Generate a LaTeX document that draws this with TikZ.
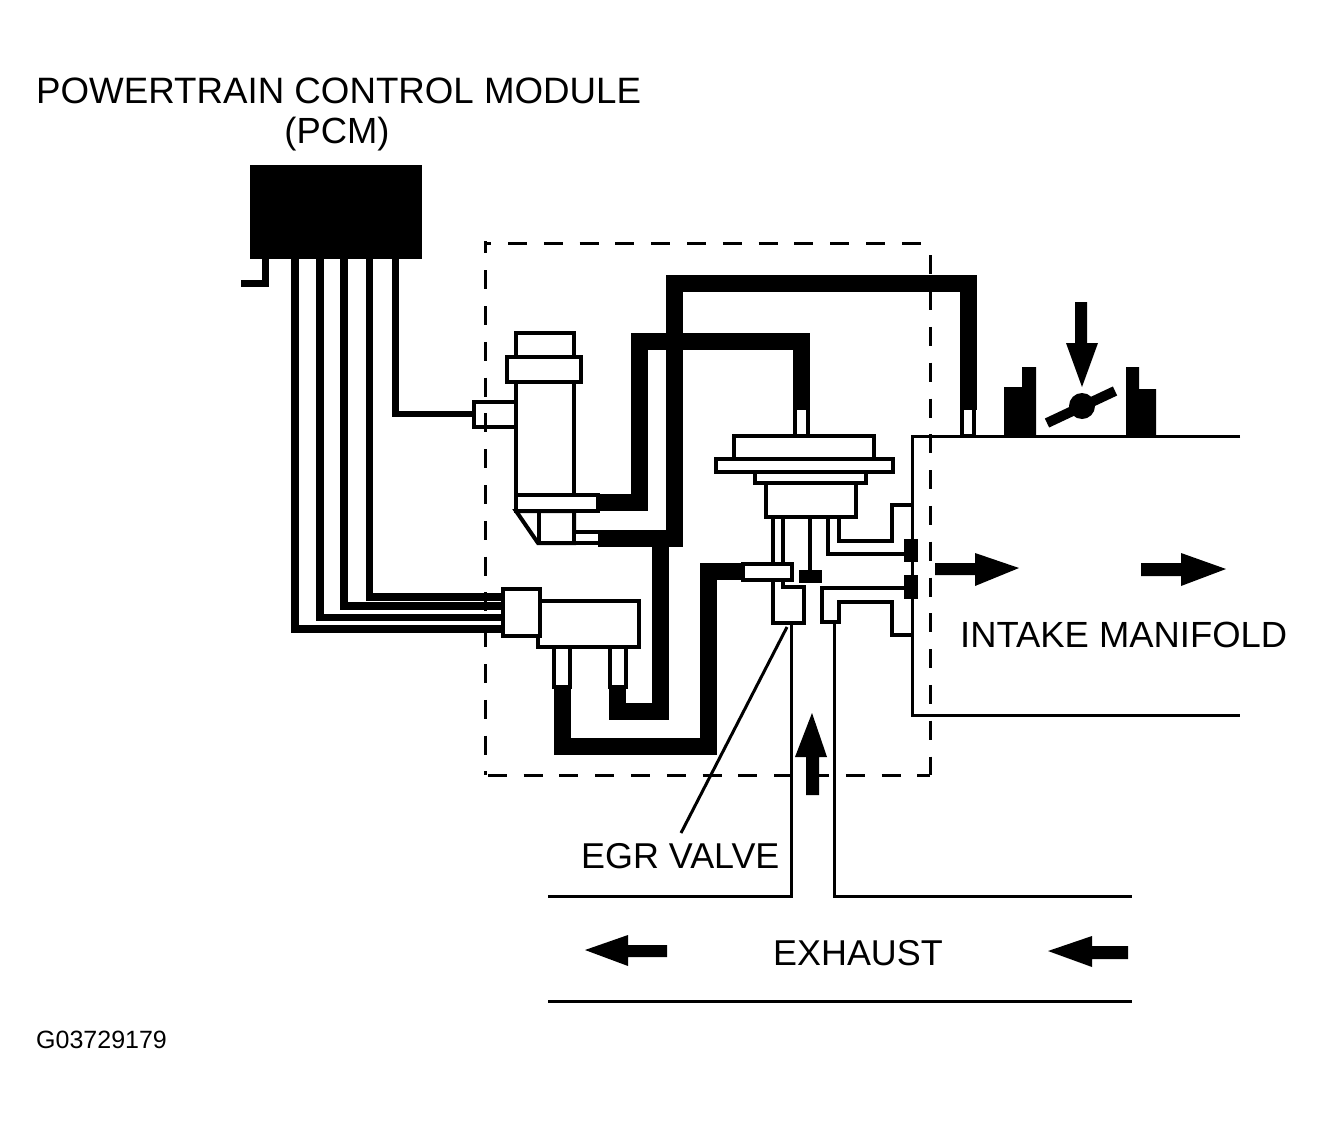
\documentclass[tikz,border=0pt]{standalone}
\usepackage{fontspec}
\setmainfont{Liberation Sans}
\tikzset{
 x=1pt,y=-1pt,
 lbl/.style={inner sep=0pt,font=\fontsize{36.4}{40}\selectfont},
 small/.style={inner sep=0pt,font=\fontsize{25}{28}\selectfont},
 ln/.style={draw=black,line width=4pt,line join=miter},
 wire/.style={draw=black,line width=7.5pt,line join=miter},
 hose/.style={draw=black,line width=17pt,line join=miter},
 part/.style={draw=black,line width=4pt,fill=white},
 pipe/.style={draw=black,line width=3pt},
 solid black/.style={fill=black,draw=none},
 dashbox/.style={draw=black,line width=3pt,dash pattern=on 19pt off 16.8pt},
}
\begin{document}
\begin{tikzpicture}
\useasboundingbox (0,0) rectangle (1324,1124);
% texts
\node[lbl,font=\fontsize{36.7}{40}\selectfont,anchor=west] (title) at (36,91) {POWERTRAIN CONTROL MODULE};
\node[lbl] (pcmlabel) at (337,134) {(PCM)};
\node[lbl,anchor=west] (intake) at (960,635) {INTAKE MANIFOLD};
\node[lbl,font=\fontsize{35.9}{40}\selectfont,anchor=west] (egr) at (581,856) {EGR VALVE};
\node[lbl,font=\fontsize{35.9}{40}\selectfont,anchor=west] (exhaust) at (773,953) {EXHAUST};
\node[small,anchor=west] (code) at (36,1040) {G03729179};
% PCM
\fill[solid black] (250,165) rectangle (422,259);
\draw[wire,line width=7pt] (265.5,259) -- (265.5,283.5) -- (241,283.5);
% solenoid 1
\draw[part] (516,333) rectangle (574,370);
\draw[part] (516,382) rectangle (574,495);
\draw[part] (507,357) rectangle (581,382);
\draw[part] (474,402) rectangle (516,427);
\draw[ln,fill=white] (516,511) -- (538,543) -- (574,543) -- (574,511) -- cycle;
\draw[ln] (539,511) -- (539,543);
% solenoid 2
\draw[part] (538,601) rectangle (639,647);
\draw[part] (503,589) rectangle (540,636);
\coordinate (c1) at (503,597); \coordinate (c2) at (503,606);
\coordinate (c3) at (503,617.5); \coordinate (c4) at (503,629);
\coordinate (c5) at (474,414);
% wires
\draw[wire,line width=6.5pt] (395.5,259) |- (c5);
\draw[wire] (369.5,259) |- (c1);
\draw[wire] (344,259) |- (c2);
\draw[wire] (320,259) |- (c3);
\draw[wire] (295,259) |- (c4);
% hoses
\coordinate (h1s) at (598,502.5);
\draw[hose] (h1s) -- (639.5,502.5) -- (639.5,341) -- (801,341) -- (801,410);
\coordinate (h2s) at (598,538.5);
\draw[hose] (h2s) -- (674,538.5) -- (674,283.5) -- (968,283.5) -- (968,410);
\draw[hose] (660,538) -- (660,711.5) -- (617.5,711.5) -- (617.5,687);
\draw[hose] (562,687) -- (562,746.5) -- (708.5,746.5) -- (708.5,571.5) -- (743,571.5);
% tubes
\draw[part] (516,495) rectangle (598,511);
\draw[ln,fill=white] (598,532) -- (574,532) -- (574,543) -- (598,543);
\draw[part] (554,647) rectangle (570,687);
\draw[part] (610,647) rectangle (626,687);
\draw[part] (795,410) -- (795,436) -- (808,436) -- (808,410);
\draw[part] (962,410) -- (962,436) -- (974,436) -- (974,410);
% EGR valve
\draw[part] (734,436) rectangle (874,460);
\draw[part] (766,483) rectangle (856,517);
\draw[part] (755,472) rectangle (866,483);
\draw[part] (716,459) rectangle (893,472);
\draw[ln] (773,517) -- (773,564);
\draw[ln] (783,517) -- (783,564);
\draw[ln] (810,517) -- (810,572);
\fill[solid black] (799,570) rectangle (822,583);
\draw[ln,fill=white] (773,580) -- (773,623) -- (804,623) -- (804,587) -- (783,587) -- (783,580);
\draw[part] (743,564) rectangle (792,580);
\draw[ln] (828,517) -- (828,554) -- (905,554);
\draw[ln] (839,517) -- (839,541) -- (892,541) -- (892,505) -- (912,505);
\draw[ln] (905,588) -- (822,588) -- (822,622) -- (839,622) -- (839,602) -- (892,602) -- (892,635) -- (912,635);
% manifold
\draw[pipe] (1240,436) -- (912,436) -- (912,715) -- (1240,715);
\fill[solid black] (904,539) rectangle (918,562);
\fill[solid black] (904,575) rectangle (918,599);
% dashed box
\draw[dashbox,dash phase=6.6pt] (485,241) -- (485,775);
\draw[dashbox,dash phase=23.5pt] (930,243) -- (930,775);
\draw[dashbox,dash phase=12.8pt] (485,243) -- (930,243);
\draw[dashbox,dash phase=33pt] (485,775) -- (930,775);
% throttle
\fill[solid black] (1004,436) -- (1004,387) -- (1022,387) -- (1022,367) -- (1036,367) -- (1036,436) -- cycle;
\fill[solid black] (1126,436) -- (1126,367) -- (1139,367) -- (1139,389) -- (1156,389) -- (1156,436) -- cycle;
\draw[line width=10pt] (1047,423) -- (1115,391);
\fill (1082,406) circle (13);
\fill (1075,302) -- (1087,302) -- (1087,343) -- (1098,343) -- (1082,387) -- (1066,343) -- (1075,343) -- cycle;
% exhaust pipes
\draw[pipe] (791,623) -- (791,896) -- (548,896);
\draw[pipe] (834,622) -- (834,896) -- (1132,896);
\draw[pipe] (548,1001) -- (1132,1001);
\draw[line width=3pt] (787,627) -- (681,833);
% flow arrows
\fill (935,563) -- (975,563) -- (975,553) -- (1019,568) -- (975,586) -- (975,575) -- (935,575) -- cycle;
\fill (1141,563) -- (1181,563) -- (1181,553) -- (1226,569) -- (1181,586) -- (1181,576) -- (1141,576) -- cycle;
\fill (806,795) -- (806,757) -- (795,757) -- (812,713) -- (827,757) -- (819,757) -- (819,795) -- cycle;
\fill (667,945) -- (628,945) -- (628,935) -- (585,950) -- (628,966) -- (628,957) -- (667,957) -- cycle;
\fill (1128,946) -- (1092,946) -- (1092,936) -- (1048,951) -- (1092,967) -- (1092,959) -- (1128,959) -- cycle;
\end{tikzpicture}
\end{document}
